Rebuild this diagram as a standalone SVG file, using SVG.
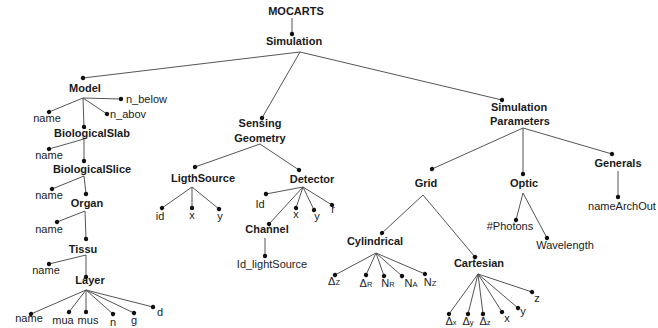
<svg xmlns="http://www.w3.org/2000/svg" width="658" height="328" viewBox="0 0 658 328">
<style>
text{font-family:"Liberation Sans",Arial,sans-serif;font-size:11px;fill:#1a1a1a;text-anchor:middle}
.b{font-weight:bold}
.s{text-anchor:start}
.sub{font-size:7.5px}
#connectors line{stroke:#555;stroke-width:1;marker-end:url(#dot)}
</style>
<defs>
<marker id="dot" viewBox="-3 -3 6 6" markerWidth="6" markerHeight="6" refX="0" refY="0" markerUnits="userSpaceOnUse" orient="auto"><circle r="2.2" fill="#111"/></marker>
</defs>
<rect width="658" height="328" fill="#fff"/>
<g id="connectors">
<line x1="292" y1="18" x2="292" y2="34"/>
<line x1="300" y1="52" x2="83" y2="78"/>
<line x1="300" y1="52" x2="262" y2="118"/>
<line x1="300" y1="52" x2="502" y2="100"/>
<line x1="83" y1="98" x2="121" y2="99"/>
<line x1="83" y1="98" x2="49" y2="112"/>
<line x1="83" y1="98" x2="107" y2="114"/>
<line x1="83" y1="98" x2="84" y2="127"/>
<line x1="84" y1="139" x2="49" y2="149"/>
<line x1="84" y1="139" x2="84" y2="161"/>
<line x1="84" y1="176" x2="52" y2="189"/>
<line x1="84" y1="176" x2="86" y2="194"/>
<line x1="85" y1="211" x2="57" y2="222"/>
<line x1="85" y1="211" x2="86" y2="239"/>
<line x1="86" y1="255" x2="49" y2="264"/>
<line x1="86" y1="255" x2="86" y2="277"/>
<line x1="86" y1="290" x2="31" y2="314"/>
<line x1="86" y1="290" x2="69" y2="312"/>
<line x1="86" y1="290" x2="86" y2="312"/>
<line x1="86" y1="290" x2="113" y2="314"/>
<line x1="86" y1="290" x2="134" y2="313"/>
<line x1="86" y1="290" x2="153" y2="307"/>
<line x1="260" y1="144" x2="195" y2="167"/>
<line x1="260" y1="144" x2="299" y2="170"/>
<line x1="192" y1="187" x2="162" y2="208"/>
<line x1="192" y1="187" x2="192" y2="208"/>
<line x1="192" y1="187" x2="219" y2="209"/>
<line x1="303" y1="187" x2="266" y2="194"/>
<line x1="303" y1="187" x2="296" y2="208"/>
<line x1="303" y1="187" x2="314" y2="210"/>
<line x1="303" y1="187" x2="332" y2="205"/>
<line x1="303" y1="187" x2="269" y2="224"/>
<line x1="265" y1="238" x2="265" y2="256"/>
<line x1="523" y1="128" x2="432" y2="169"/>
<line x1="523" y1="128" x2="523" y2="174"/>
<line x1="523" y1="128" x2="612" y2="154"/>
<line x1="618" y1="171" x2="618" y2="197"/>
<line x1="523" y1="193" x2="516" y2="220"/>
<line x1="523" y1="193" x2="547" y2="238"/>
<line x1="423" y1="195" x2="382" y2="233"/>
<line x1="423" y1="195" x2="475" y2="257"/>
<line x1="376" y1="253" x2="335" y2="275"/>
<line x1="376" y1="253" x2="366" y2="275"/>
<line x1="376" y1="253" x2="384" y2="276"/>
<line x1="376" y1="253" x2="402" y2="276"/>
<line x1="376" y1="253" x2="425" y2="274"/>
<line x1="478" y1="274" x2="449" y2="314"/>
<line x1="478" y1="274" x2="468" y2="314"/>
<line x1="478" y1="274" x2="483" y2="314"/>
<line x1="478" y1="274" x2="502" y2="312"/>
<line x1="478" y1="274" x2="518" y2="308"/>
<line x1="478" y1="274" x2="532" y2="292"/>
</g>
<g id="mocarts"><text class="b" x="296" y="15">MOCARTS</text></g>
<g id="simulation"><text class="b" x="294" y="45">Simulation</text></g>
<g id="model"><text class="b" x="85" y="92">Model</text></g>
<g id="model-n-below"><text class="s" x="126" y="103">n_below</text></g>
<g id="model-name"><text x="47" y="122">name</text></g>
<g id="model-n-abov"><text class="s" x="110" y="118">n_abov</text></g>
<g id="biological-slab"><text class="b" x="92" y="137">BiologicalSlab</text></g>
<g id="slab-name"><text x="49" y="159">name</text></g>
<g id="biological-slice"><text class="b" x="92" y="173">BiologicalSlice</text></g>
<g id="slice-name"><text x="49" y="199">name</text></g>
<g id="organ"><text class="b" x="87" y="207">Organ</text></g>
<g id="organ-name"><text x="49" y="233">name</text></g>
<g id="tissu"><text class="b" x="83" y="253">Tissu</text></g>
<g id="tissu-name"><text x="46" y="274">name</text></g>
<g id="layer"><text class="b" x="90" y="284">Layer</text></g>
<g id="layer-name"><text x="29" y="322">name</text></g>
<g id="layer-mua"><text x="63" y="324">mua</text></g>
<g id="layer-mus"><text x="88" y="324">mus</text></g>
<g id="layer-n"><text x="113" y="326">n</text></g>
<g id="layer-g"><text x="134" y="324">g</text></g>
<g id="layer-d"><text x="160" y="316">d</text></g>
<g id="sensing-geometry"><text class="b" x="260" y="127">Sensing</text><text class="b" x="260" y="142">Geometry</text></g>
<g id="ligth-source"><text class="b" x="203" y="182">LigthSource</text></g>
<g id="ls-id"><text x="160" y="220">id</text></g>
<g id="ls-x"><text x="192" y="219">x</text></g>
<g id="ls-y"><text x="220" y="220">y</text></g>
<g id="detector"><text class="b" x="312" y="183">Detector</text></g>
<g id="det-id"><text x="260" y="208">Id</text></g>
<g id="det-x"><text x="296" y="218">x</text></g>
<g id="det-y"><text x="317" y="220">y</text></g>
<g id="det-r"><text x="333" y="213">r</text></g>
<g id="channel"><text class="b" x="267" y="233">Channel</text></g>
<g id="id-lightsource"><text x="272" y="268">Id_lightSource</text></g>
<g id="simulation-parameters"><text class="b" x="519" y="111">Simulation</text><text class="b" x="520" y="125">Parameters</text></g>
<g id="grid"><text class="b" x="426" y="187">Grid</text></g>
<g id="optic"><text class="b" x="524" y="187">Optic</text></g>
<g id="generals"><text class="b" x="618" y="167">Generals</text></g>
<g id="name-arch-out"><text x="622" y="210">nameArchOut</text></g>
<g id="photons"><text x="510" y="230">#Photons</text></g>
<g id="wavelength"><text x="565" y="249">Wavelength</text></g>
<g id="cylindrical"><text class="b" x="375" y="245">Cylindrical</text></g>
<g id="cyl-dz"><text x="334" y="285">Δ<tspan class="sub">Z</tspan></text></g>
<g id="cyl-dr"><text x="366" y="287">Δ<tspan class="sub">R</tspan></text></g>
<g id="cyl-nr"><text x="388" y="287">N<tspan class="sub">R</tspan></text></g>
<g id="cyl-na"><text x="411" y="287">N<tspan class="sub">A</tspan></text></g>
<g id="cyl-nz"><text x="430" y="286">N<tspan class="sub">Z</tspan></text></g>
<g id="cartesian"><text class="b" x="479" y="267">Cartesian</text></g>
<g id="cart-dx"><text x="451" y="325">Δ<tspan class="sub">x</tspan></text></g>
<g id="cart-dy"><text x="468" y="325">Δ<tspan class="sub">y</tspan></text></g>
<g id="cart-dz"><text x="485" y="325">Δ<tspan class="sub">z</tspan></text></g>
<g id="cart-x"><text x="507" y="322">x</text></g>
<g id="cart-y"><text x="523" y="315">y</text></g>
<g id="cart-z"><text x="537" y="302">z</text></g>
</svg>
